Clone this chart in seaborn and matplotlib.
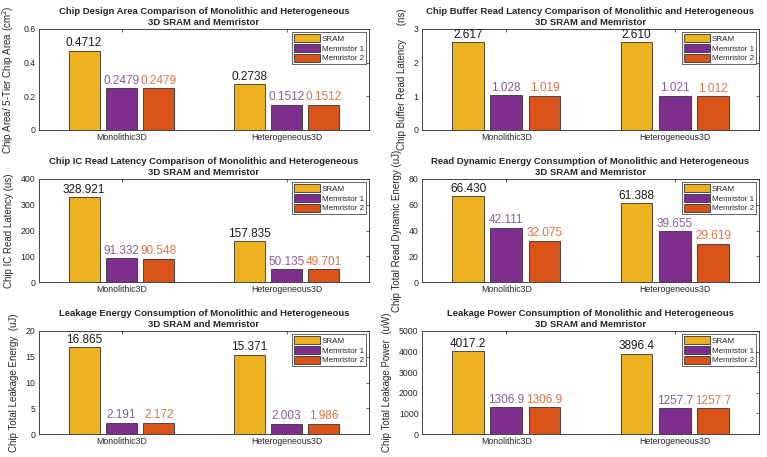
import numpy as np
import pandas as pd
import matplotlib
matplotlib.use('Agg')
import matplotlib.pyplot as plt
import seaborn as sns

# categories and series
groups = ['Monolithic3D', 'Heterogeneous3D']
techs = ['SRAM', 'Memristor 1', 'Memristor 2']
colors = ['#EDB120', '#7E2F8E', '#D95319']
label_colors = ['#1a1a1a', '#8a5a9c', '#dc7446']

# values per tech: [Monolithic3D, Heterogeneous3D]
area = [[0.4712, 0.2738], [0.2479, 0.1512], [0.2479, 0.1512]]
buffer_latency = [[2.617, 2.610], [1.028, 1.021], [1.019, 1.012]]
ic_latency = [[328.921, 157.835], [91.332, 50.135], [90.548, 49.701]]
dyn_energy = [[66.430, 61.388], [42.111, 39.655], [32.075, 29.619]]
leak_energy = [[16.865, 15.371], [2.191, 2.003], [2.172, 1.986]]
leak_power = [[4017.2, 3896.4], [1306.9, 1257.7], [1306.9, 1257.7]]

sub = '3D SRAM and Memristor'
panels = [
    (area, 'Chip Design Area Comparison of Monolithic and Heterogeneous',
     'Chip Area/ 5-Tier Chip Area (cm$^2$)', 0.6, [0, 0.2, 0.4, 0.6], '%.4f'),
    (buffer_latency, 'Chip Buffer Read Latency Comparison of Monolithic and Heterogeneous',
     'Chip Buffer Read Latency     (ns)', 3, [0, 1, 2, 3], '%.3f'),
    (ic_latency, 'Chip IC Read Latency Comparison of Monolithic and Heterogeneous',
     'Chip IC Read Latency (us)', 400, [0, 100, 200, 300, 400], '%.3f'),
    (dyn_energy, 'Read Dynamic Energy Consumption of Monolithic and Heterogeneous',
     'Chip Total Read Dynamic Energy (uJ)', 80, [0, 20, 40, 60, 80], '%.3f'),
    (leak_energy, 'Leakage Energy Consumption of Monolithic and Heterogeneous',
     'Chip Total Leakage Energy  (uJ)', 20, [0, 5, 10, 15, 20], '%.3f'),
    (leak_power, 'Leakage Power Consumption of Monolithic and Heterogeneous',
     'Chip Total Leakage Power  (uW)', 5000, [0, 1000, 2000, 3000, 4000, 5000], '%.1f'),
]

sns.set_theme(style='white')
plt.rcParams['font.family'] = ['Liberation Sans', 'DejaVu Sans']
plt.rcParams['axes.edgecolor'] = '#262626'
plt.rcParams['xtick.color'] = '#262626'
plt.rcParams['ytick.color'] = '#262626'

W, H = 767, 457
fig = plt.figure(figsize=(W / 100, H / 100), dpi=100)

# axes boxes in pixels: left, top, right, bottom
cols = [(39, 369), (422, 759)]
rows = [(29, 130), (179, 282), (331, 434)]

for i, (vals, title, ylabel, ymax, yticks, fmt) in enumerate(panels):
    r, c = divmod(i, 2)
    x0, x1 = cols[c]
    y0, y1 = rows[r]
    ax = fig.add_axes([x0 / W, 1 - y1 / H, (x1 - x0) / W, (y1 - y0) / H])

    df = pd.DataFrame({
        'group': np.tile(groups, len(techs)),
        'tech': np.repeat(techs, len(groups)),
        'value': np.ravel(vals),
    })
    sns.barplot(data=df, x='group', y='value', hue='tech', order=groups,
                hue_order=techs, palette=colors, width=0.68, gap=0.17,
                edgecolor='#333333', linewidth=0.6, saturation=1, ax=ax)

    for cont, col in zip(ax.containers, label_colors):
        ax.bar_label(cont, fmt=fmt, padding=1, fontsize=8.5, color=col)

    ax.set_xlim(-0.5, 1.5)
    ax.set_ylim(0, ymax)
    ax.set_yticks(yticks)
    ax.set_yticklabels([f'{t:g}' for t in yticks])
    ax.set_xlabel('')
    ax.set_ylabel(ylabel, fontsize=7, labelpad=5, color='#262626')
    ax.set_title(title + '\n' + sub, fontsize=6.8, fontweight='bold', pad=3,
                 linespacing=1.25)
    ax.tick_params(axis='both', direction='in', length=2.5, width=0.5,
                   labelsize=6.3, top=True, right=True, pad=2.5)
    for s in ax.spines.values():
        s.set_linewidth(0.6)
        s.set_visible(True)

    handles, labels = ax.get_legend_handles_labels()
    ax.legend(handles, labels, loc='upper right', fontsize=5.8, frameon=True,
              fancybox=False, edgecolor='#262626', framealpha=1,
              handlelength=3.2, handleheight=1.1, handletextpad=0.2,
              borderpad=0.25, labelspacing=0.15, borderaxespad=0.4)
    ax.get_legend().get_frame().set_linewidth(0.5)

fig.savefig('out.png', dpi=100)
